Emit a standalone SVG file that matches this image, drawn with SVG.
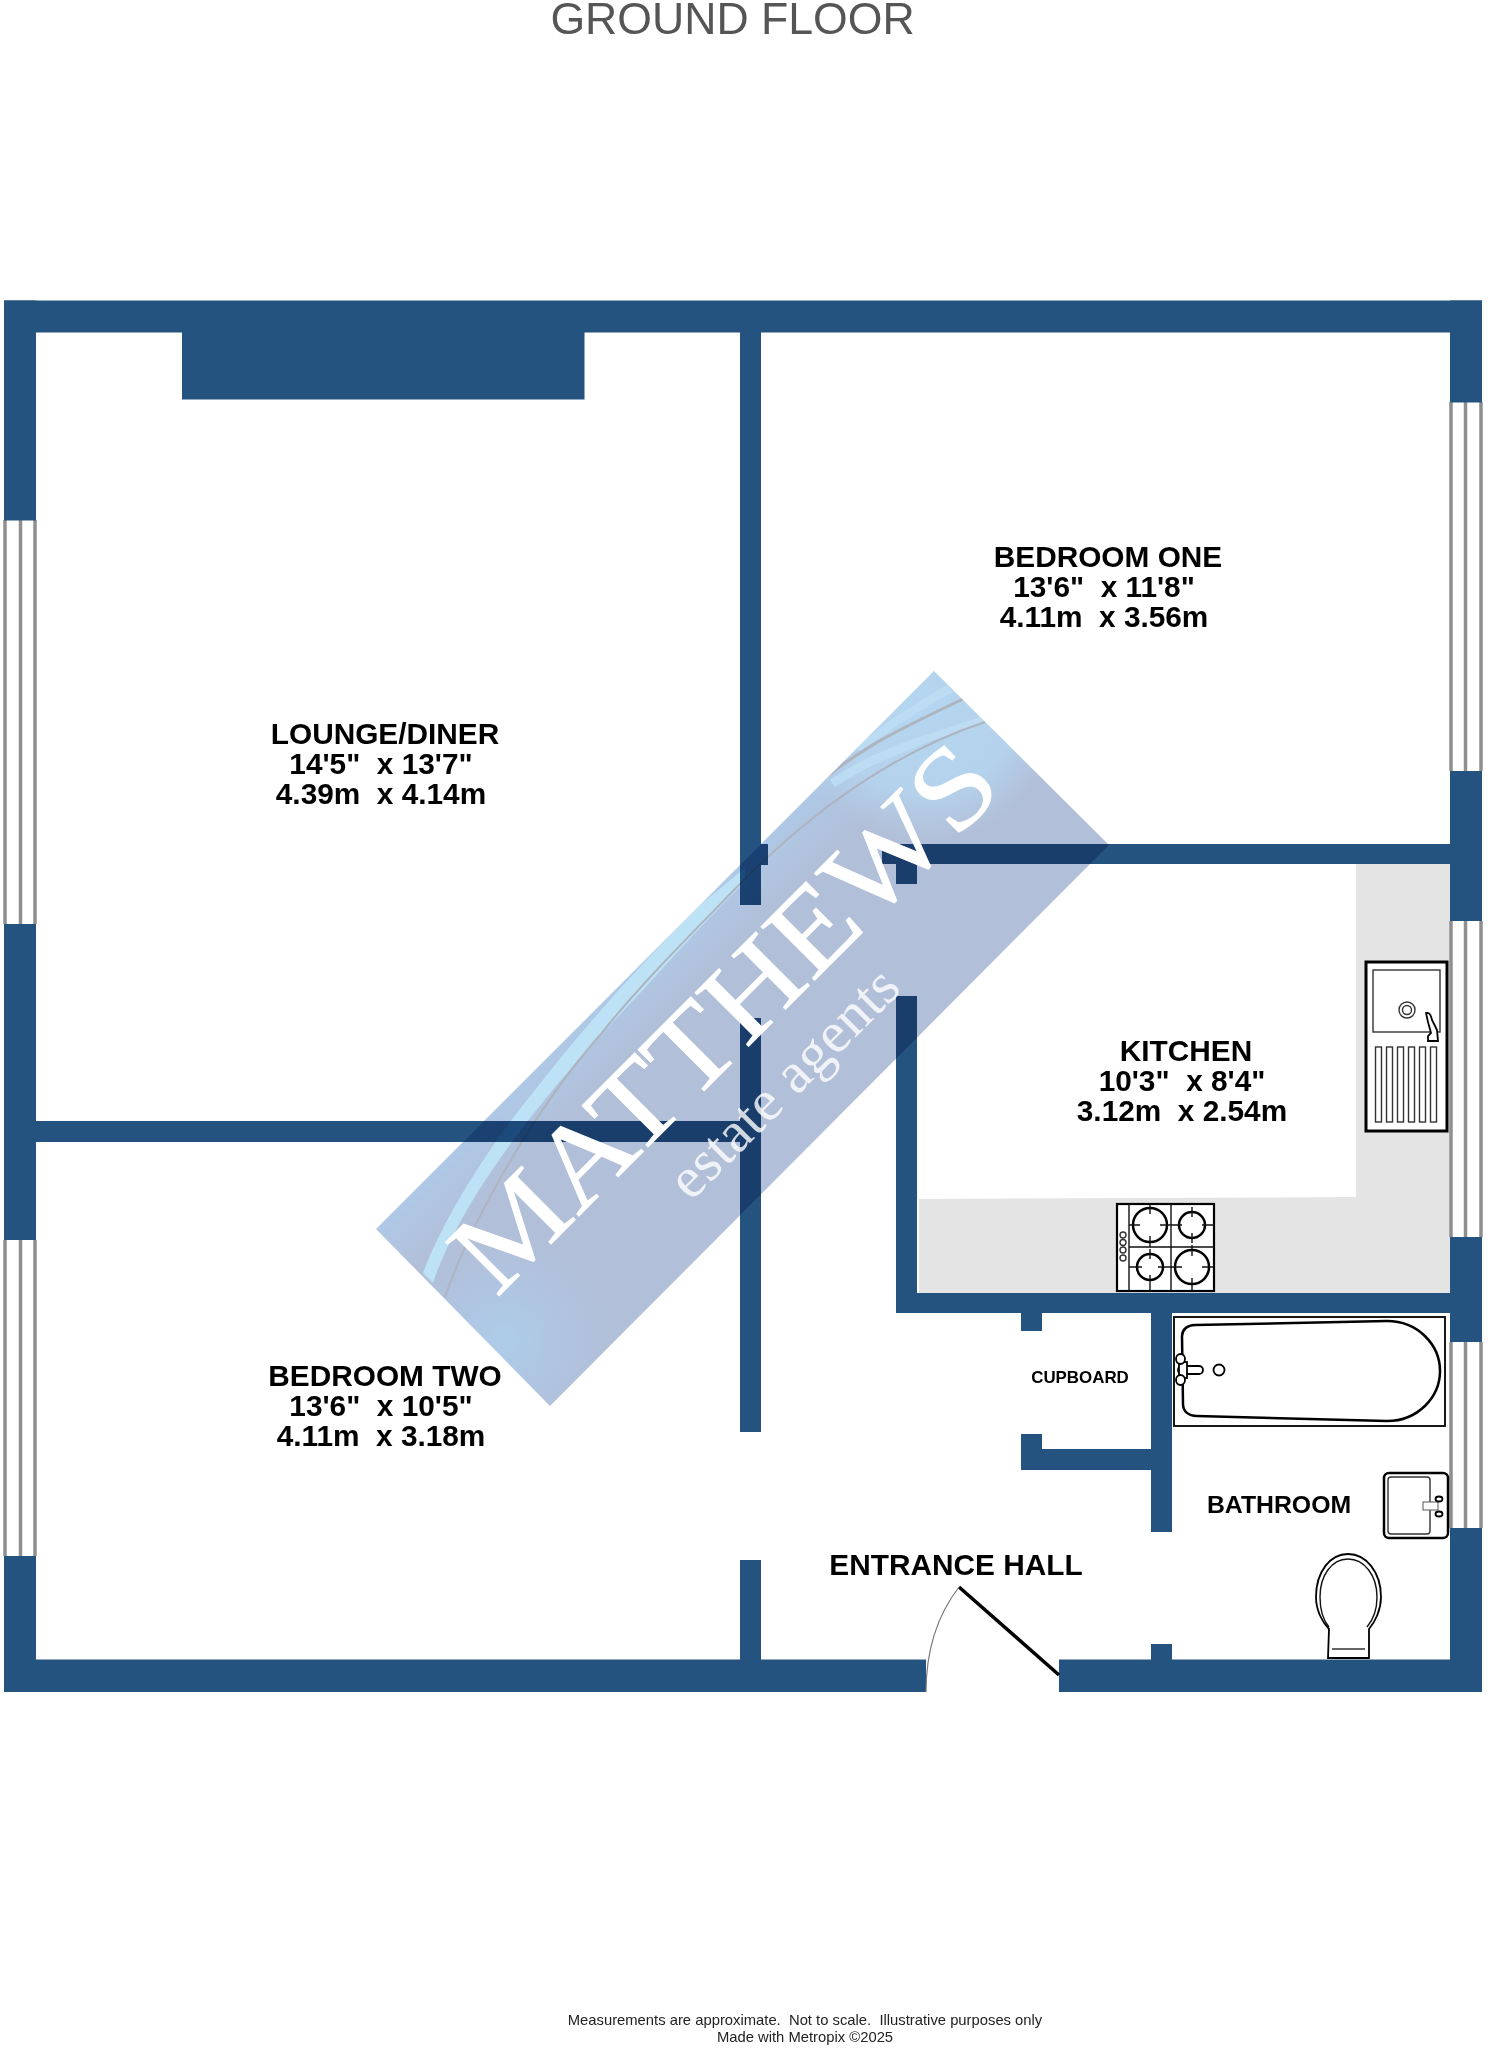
<svg xmlns="http://www.w3.org/2000/svg" width="1488" height="2048" viewBox="0 0 1488 2048">
<style>
text{font-family:"Liberation Sans",Arial,sans-serif;white-space:pre}
.l{font-size:29.800px;font-weight:bold;fill:#000;text-anchor:middle}
.w{fill:#25537f}
.g{fill:none;stroke:#8f8f8f;stroke-width:3.5}
.k{fill:#fff;stroke:#000;stroke-width:1.8}
.k2{fill:none;stroke:#000;stroke-width:2.5}
.k1{fill:none;stroke:#333;stroke-width:1.4}
.wm{font-family:"Liberation Serif","Times New Roman",serif;fill:#fff;text-anchor:middle}
</style>
<defs>
<clipPath id="bandclip"><path d="M934 671L1109 845L550 1406L376 1229Z"/></clipPath>
<linearGradient id="edgeg" gradientUnits="userSpaceOnUse" x1="640" y1="945" x2="690" y2="995">
<stop offset="0" stop-color="#aecbea"/><stop offset="1" stop-color="#b2bfd8"/>
</linearGradient>
<radialGradient id="topg" gradientUnits="userSpaceOnUse" cx="925" cy="705" r="135">
<stop offset="0" stop-color="#b4d6f0"/><stop offset=".65" stop-color="#b5d2ec"/><stop offset="1" stop-color="#b4d2ec" stop-opacity="0"/>
</radialGradient>
<radialGradient id="lowg" gradientUnits="userSpaceOnUse" cx="505" cy="1340" r="105">
<stop offset="0" stop-color="#aecde9"/><stop offset=".5" stop-color="#aec6e4" stop-opacity=".8"/><stop offset="1" stop-color="#afc6e2" stop-opacity="0"/>
</radialGradient>
</defs>
<rect width="1488" height="2048" fill="#fff"/>
<text id="title" x="732.500" y="34" font-size="44.600" fill="#555" text-anchor="middle">GROUND FLOOR</text>

<g id="kitchen-counter"><path fill="#e4e4e4" d="M1356 864H1450V1293H919V1199L1356 1197Z"/></g>

<g id="windows">
<g class="g">
<path d="M5 520V924M20.500 520V924M35 520V924"/>
<path d="M5 1240V1556M20.500 1240V1556M35 1240V1556"/>
<path d="M1451 402V771M1465.500 402V771M1481 402V771"/>
<path d="M1451 921V1237M1465.500 921V1237M1481 921V1237"/>
<path d="M1451 1342V1528M1465.500 1342V1528M1481 1342V1528"/>
</g>
</g>

<g id="walls" class="w">
<rect x="4" y="300.500" width="1478" height="32"/>
<rect x="4" y="300.500" width="32" height="220"/>
<rect x="4" y="924" width="32" height="316"/>
<rect x="4" y="1556" width="32" height="136"/>
<rect x="1450" y="300.500" width="32" height="102"/>
<rect x="1450" y="771" width="32" height="150"/>
<rect x="1450" y="1237" width="32" height="105"/>
<rect x="1450" y="1528" width="32" height="164"/>
<rect x="4" y="1659.500" width="922" height="32.500"/>
<rect x="1059" y="1659.500" width="423" height="32.500"/>
<rect x="182" y="332" width="402.500" height="67.500"/>
<rect x="740" y="332" width="21" height="573"/>
<rect x="740" y="844" width="28" height="21"/>
<rect x="740" y="1018" width="21" height="414"/>
<rect x="740" y="1560" width="21" height="100"/>
<rect x="36" y="1121" width="704" height="21"/>
<rect x="882" y="844" width="568" height="20"/>
<rect x="896" y="844" width="21" height="40"/>
<rect x="896" y="996" width="21" height="317"/>
<rect x="896" y="1293" width="554" height="20"/>
<rect x="1021" y="1313" width="21" height="18"/>
<rect x="1021" y="1434" width="21" height="36"/>
<rect x="1021" y="1449" width="130" height="21"/>
<rect x="1151" y="1313" width="21" height="219"/>
<rect x="1151" y="1644" width="21" height="16"/>
</g>

<g id="door">
<path d="M959 1587L1059 1675" stroke="#000" stroke-width="3.500" fill="none"/>
<path d="M959 1587Q926 1630 926 1692" stroke="#777" stroke-width="1.200" fill="none"/>
</g>

<g id="sink">
<rect class="k" x="1366" y="962" width="81" height="169" style="stroke-width:3"/>
<rect class="k1" x="1373" y="970" width="67" height="62"/>
<circle class="k1" cx="1407" cy="1010" r="8"/><circle class="k1" cx="1407" cy="1010" r="4.500"/>
<path class="k" d="M1426 1013C1430 1012 1431 1016 1432 1020L1437 1030L1438 1041H1428V1036L1431 1033L1428 1022Z"/>
<g class="k1"><rect x="1375.500" y="1047" width="6" height="75"/><rect x="1386.500" y="1047" width="6" height="75"/><rect x="1397.500" y="1047" width="6" height="75"/><rect x="1408.500" y="1047" width="6" height="75"/><rect x="1419.500" y="1047" width="6" height="75"/><rect x="1430.500" y="1047" width="6" height="75"/></g>
</g>

<g id="hob">
<rect class="k" x="1117" y="1204" width="97" height="87" style="stroke-width:2.200"/>
<path class="k1" d="M1129 1204V1291M1171 1204V1291M1129 1247H1214" style="stroke:#111"/>
<g class="k2"><circle cx="1150" cy="1225" r="17"/><circle cx="1192" cy="1225" r="13"/><circle cx="1150" cy="1267" r="13"/><circle cx="1192" cy="1267" r="17"/></g>
<path class="k1" style="stroke:#111" d="M1150 1203V1214M1150 1236V1247M1129 1225H1140M1160 1225H1171M1192 1207V1217M1192 1233V1243M1171 1225H1182M1202 1225H1214M1150 1249V1259M1150 1275V1291M1129 1267H1142M1158 1267H1171M1192 1245V1256M1192 1278V1291M1171 1267H1182M1202 1267H1214"/>
<g class="k1"><circle cx="1123" cy="1235" r="3"/><circle cx="1123" cy="1242.500" r="3"/><circle cx="1123" cy="1250" r="3"/><circle cx="1123" cy="1258" r="3"/></g>
</g>

<g id="bath">
<rect class="k" x="1174" y="1317" width="271" height="109"/>
<path class="k2" d="M1195 1325L1387 1321C1418 1321 1440 1345 1440 1371C1440 1397 1418 1421 1387 1421L1197 1416C1188 1416 1183 1411 1183 1404L1182 1336C1182 1330 1187 1325 1195 1325Z"/>
<rect class="k" x="1178" y="1366" width="25" height="8" rx="4"/>
<rect class="k" x="1179" y="1362" width="8" height="16"/>
<ellipse class="k" cx="1180.500" cy="1359" rx="4.500" ry="5"/><ellipse class="k" cx="1180.500" cy="1380" rx="4.500" ry="5"/>
<circle class="k" cx="1219" cy="1370" r="5.500"/>
</g>

<g id="basin">
<rect class="k" x="1384" y="1473" width="64" height="65" rx="5" style="stroke-width:2.500"/>
<rect class="k1" x="1388" y="1477" width="42" height="57" rx="3"/>
<rect x="1423" y="1502" width="15" height="8" fill="#fff" stroke="#555" stroke-width="1"/>
<ellipse class="k" cx="1439" cy="1499" rx="3.500" ry="2.500"/><ellipse class="k" cx="1439" cy="1514" rx="3.500" ry="2.500"/>
</g>

<g id="toilet">
<path class="k" d="M1329 1629C1322 1622 1316 1610 1316 1597C1316 1572 1330 1554 1348 1554C1366 1554 1381 1572 1381 1597C1381 1610 1375 1622 1369 1629V1658H1328Z"/>
<path class="k1" d="M1329 1627C1323 1620 1320 1609 1320 1597C1320 1575 1332 1559 1348 1559C1364 1559 1377 1575 1377 1597C1377 1609 1373 1620 1367 1627" style="stroke:#111"/>
<path class="k1" d="M1332 1649H1365"/>
</g>

<g id="watermark">
<g clip-path="url(#bandclip)" style="mix-blend-mode:multiply">
<rect x="370" y="660" width="750" height="750" fill="url(#edgeg)"/>
<rect x="370" y="660" width="750" height="750" fill="url(#topg)"/>
<rect x="370" y="660" width="750" height="750" fill="url(#lowg)"/>
<path fill="#bde2f6" d="M423 1273C445 1215 490 1145 535 1090C570 1045 620 985 700 905L745 868L745 882C690 935 650 985 600 1035C560 1080 500 1150 463 1217C450 1240 440 1262 433 1283Z"/>
<path fill="#bcdcf3" d="M857 748C885 720 915 705 947 685L953 692C920 710 890 730 860 752Z"/>
<path fill="#bcdcf3" d="M830 780C880 745 930 735 980 717L985 722C935 740 885 755 835 787Z"/>
<path fill="none" stroke="#adb4bf" stroke-width="2" d="M445 1297C470 1225 530 1115 600 1035C640 985 690 935 737 887C785 838 870 760 985 722"/>
<path fill="none" stroke="#adb4bf" stroke-width="3" d="M805 795C860 745 910 725 965 698"/>
</g>
<text class="wm" transform="translate(751 1044) rotate(-45)" font-size="116" textLength="720" lengthAdjust="spacingAndGlyphs" stroke="#fff" stroke-width=".8">MATTHEWS</text>
<text class="wm" transform="translate(797 1096) rotate(-45)" font-size="58" opacity=".8" textLength="300">estate agents</text>
</g>

<g id="room-lounge"><text class="l" x="385" y="743.500">LOUNGE/DINER</text><text class="l" x="381" y="774">14'5"  x 13'7"</text><text class="l" x="381" y="803.500">4.39m  x 4.14m</text></g>
<g id="room-bedroom-one"><text class="l" x="1108" y="566.500">BEDROOM ONE</text><text class="l" x="1104" y="597">13'6"  x 11'8"</text><text class="l" x="1104" y="627">4.11m  x 3.56m</text></g>
<g id="room-kitchen"><text class="l" x="1186" y="1061">KITCHEN</text><text class="l" x="1182" y="1091">10'3"  x 8'4"</text><text class="l" x="1182" y="1121">3.12m  x 2.54m</text></g>
<g id="room-bedroom-two"><text class="l" x="385" y="1385.500">BEDROOM TWO</text><text class="l" x="381" y="1415.500">13'6"  x 10'5"</text><text class="l" x="381" y="1446">4.11m  x 3.18m</text></g>
<g id="room-cupboard"><text class="l" x="1080" y="1383" style="font-size:16.900px">CUPBOARD</text></g>
<g id="room-bathroom"><text class="l" x="1279" y="1513" style="font-size:24.800px">BATHROOM</text></g>
<g id="room-hall"><text class="l" x="956" y="1575">ENTRANCE HALL</text></g>
<text id="footer1" x="805" y="2025" font-size="14.800" fill="#222" text-anchor="middle">Measurements are approximate.  Not to scale.  Illustrative purposes only</text>
<text id="footer2" x="805" y="2042" font-size="14.800" fill="#222" text-anchor="middle">Made with Metropix ©2025</text>
</svg>
